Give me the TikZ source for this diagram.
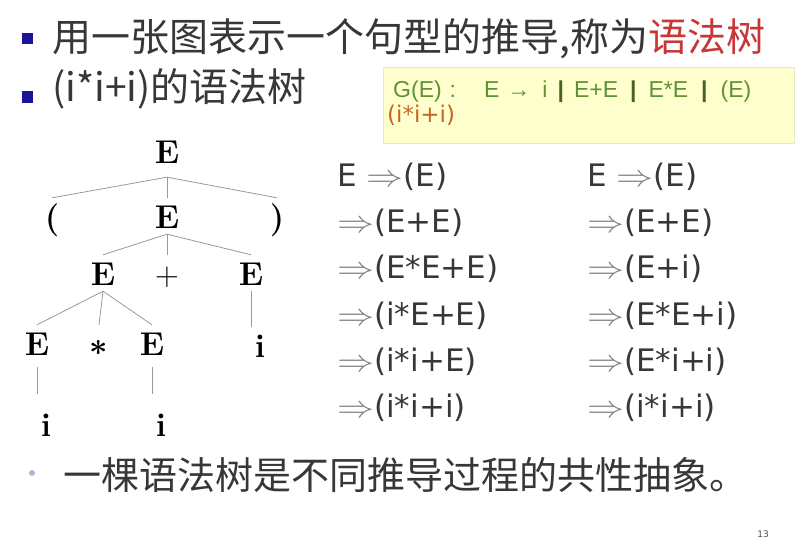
\documentclass[tikz,border=0pt]{standalone}
\usepackage{fontspec}
\newfontfamily\cjk{Noto Sans CJK SC}
\newfontfamily\dvs{DejaVu Sans}
\newfontfamily\lis{Liberation Sans}
\usetikzlibrary{positioning}

\definecolor{txt}{RGB}{55,55,55}
\definecolor{bul}{RGB}{28,20,150}
\definecolor{treered}{RGB}{200,55,55}
\definecolor{ggreen}{RGB}{95,145,55}
\definecolor{gbar}{RGB}{70,100,30}
\definecolor{gorange}{RGB}{200,100,35}
\definecolor{gboxfill}{RGB}{255,255,205}
\definecolor{gboxline}{RGB}{232,232,195}
\definecolor{dotc}{RGB}{185,178,220}

\newcommand{\derto}{\textcolor{black!50}{\scalebox{3.7}[3.1]{\fontsize{10}{12}\selectfont$\Rightarrow$}}}
\newcommand{\treeast}{\scalebox{3.2}{\fontsize{10}{12}\selectfont\boldmath$\ast$}}
\newcommand{\gbr}{\textcolor{gbar}{\bfseries|}}

\begin{document}
\begin{tikzpicture}[x=1pt,y=-1pt,
    line/.style={anchor=base west,inner sep=0pt,text=txt,font=\cjk\fontsize{39}{39}\selectfont},
    sq/.style={fill=bul,inner sep=0pt,minimum size=11pt},
    tn/.style={anchor=base,inner xsep=0pt,inner ysep=6pt,text height=24pt,text depth=0pt,font=\bfseries\fontsize{33}{33}\selectfont},
    edge/.style={draw=black!40,line width=0.8pt},
    dv/.style={anchor=base west,inner sep=0pt,text=txt,font=\dvs\fontsize{31}{31}\selectfont},
    gbox/.style={draw=gboxline,fill=gboxfill,line width=0.6pt,inner sep=0pt,anchor=north west,minimum width=411pt,minimum height=76pt},
    gtxt/.style={anchor=base west,inner sep=0pt,font=\lis\fontsize{23}{23}\selectfont}]

  \useasboundingbox (0,0) rectangle (809,543);

  % bullets
  \node[sq] (bu1) at (27.5,39) {};
  \node[line] (l1) at (52,52) {用一张图表示一个句型的推导,称为\textcolor{treered}{语法树}};
  \node[sq] (bu2) at (27.5,97) {};
  \node[line] (l2) at (52,101) {(i*i+i)的语法树};

  % grammar box
  \node[gbox] (gram) at (383,67) {};
  \node[gtxt,text=ggreen] (g1) at (393,97) {G(E)\hspace{8pt}:\hspace{28pt}E\hspace{8pt}→\hspace{12pt}i\hspace{10pt}\gbr\hspace{10pt}E+E\hspace{12pt}\gbr\hspace{12pt}E*E\hspace{13pt}\gbr\hspace{13pt}(E)};
  \node[gtxt,text=gorange,font=\dvs\fontsize{23}{23}\selectfont] (g2) at (387,122) {(i*i+i)};

  % the tree
  \node[tn,text depth=8pt] (r) at (167,163) {E};
  \node[tn] (lp) at (52,228) {(};
  \node[tn] (e2) at (167,228) {E};
  \node[tn] (rp) at (277,228) {)};
  \node[tn] (e3l) at (103,285) {E};
  \node[tn] (pl) at (167,285) {\mdseries +};
  \node[tn] (e3r) at (251,285) {E};
  \node[tn,text depth=6pt] (e4l) at (37,355) {E};
  \node[tn] (st) at (99,355) {\treeast};
  \node[tn,text depth=6pt] (e4m) at (152,355) {E};
  \node[tn] (ir) at (260,357) {i};
  \node[tn,text height=36pt] (i5l) at (46,436) {i};
  \node[tn,text height=36pt] (i5m) at (161,436) {i};

  \draw[edge] (r.south) -- (lp.north);
  \draw[edge] (r.south) -- (e2.north);
  \draw[edge] (r.south) -- (rp.north);
  \draw[edge] (e2.south) -- (e3l.north);
  \draw[edge] (e2.south) -- (pl.north);
  \draw[edge] (e2.south) -- (e3r.north);
  \draw[edge] (e3l.south) -- (e4l.north);
  \draw[edge] (e3l.south) -- (st.north);
  \draw[edge] (e3l.south) -- (e4m.north);
  \draw[edge] (e3r.south) -- (e3r.south |- ir.north);
  \draw[edge] (e4l.south) -- (e4l.south |- i5l.north);
  \draw[edge] (e4m.south) -- (e4m.south |- i5m.north);

  % two derivations
  \node[dv] (lm1) at (337,186) {E \derto(E)};
  \node[dv] (lm2) at (337,232) {\derto(E+E)};
  \node[dv] (lm3) at (337,278) {\derto(E*E+E)};
  \node[dv] (lm4) at (337,325) {\derto(i*E+E)};
  \node[dv] (lm5) at (337,371) {\derto(i*i+E)};
  \node[dv] (lm6) at (337,417) {\derto(i*i+i)};

  \node[dv] (rm1) at (587,186) {E \derto(E)};
  \node[dv] (rm2) at (587,232) {\derto(E+E)};
  \node[dv] (rm3) at (587,278) {\derto(E+i)};
  \node[dv] (rm4) at (587,325) {\derto(E*E+i)};
  \node[dv] (rm5) at (587,371) {\derto(E*i+i)};
  \node[dv] (rm6) at (587,417) {\derto(i*i+i)};

  % last point
  \node[circle,fill=dotc,inner sep=0pt,minimum size=6pt] (dot) at (32,473) {};
  \node[line,font=\cjk\fontsize{38}{38}\selectfont] (l3) at (63,489) {一棵语法树是不同推导过程的共性抽象。};
  \node[inner sep=0pt,text=black!70,font=\dvs\fontsize{9}{9}\selectfont] (pg) at (763,534) {13};
\end{tikzpicture}
\end{document}
